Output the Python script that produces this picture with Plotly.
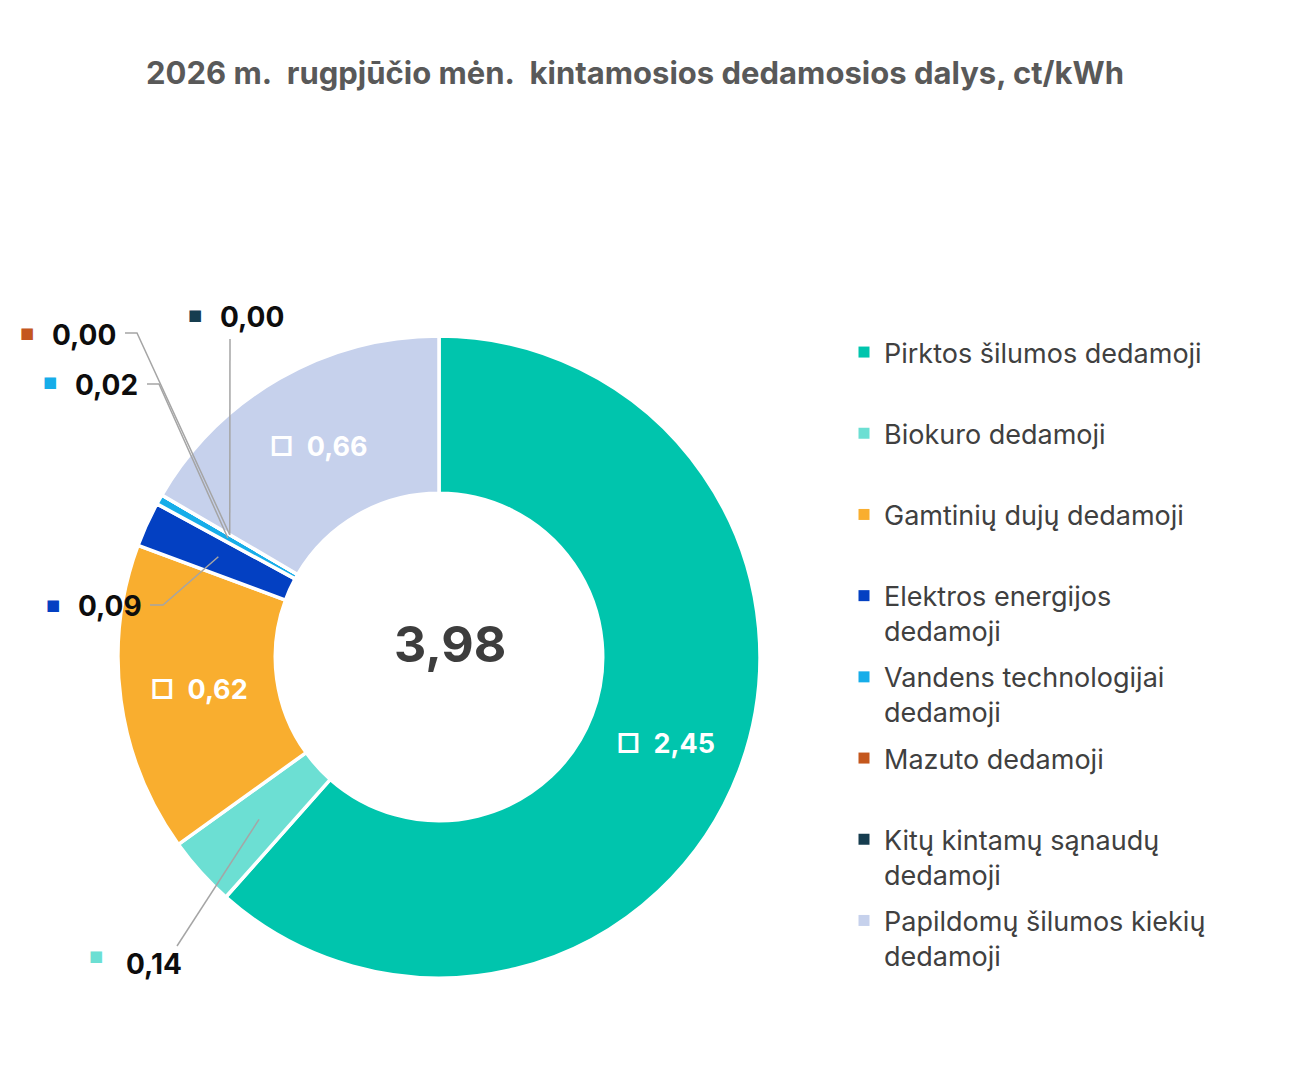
import math
import plotly.graph_objects as go

# data (ct/kWh)
categories = [
    "Pirktos šilumos dedamoji",
    "Biokuro dedamoji",
    "Gamtinių dujų dedamoji",
    "Elektros energijos dedamoji",
    "Vandens technologijai dedamoji",
    "Mazuto dedamoji",
    "Kitų kintamų sąnaudų dedamoji",
    "Papildomų šilumos kiekių dedamoji",
]
values = [2.45, 0.14, 0.62, 0.09, 0.02, 0.00, 0.00, 0.66]
colors = ["#00C5AD", "#6CDFD3", "#F9AE2F", "#0340C2", "#16ADE9", "#C4571D", "#163D4F", "#C6D1EC"]

title = "2026 m.\u00a0 rugpjūčio mėn.\u00a0 kintamosios dedamosios dalys, ct/kWh"

# page geometry (pixels); the page body has an 8px margin
OFF = 8
FW, FH = 1292 - 2 * OFF, 1080 - 2 * OFF
CX, CY, R = 439, 657, 321
HOLE = 0.51

# outside labels: text left x / centre y, colour chip centre, label end of the leader line
label_pos = {
    "Biokuro dedamoji": (124, 964),
    "Elektros energijos dedamoji": (76, 606),
    "Vandens technologijai dedamoji": (73, 385),
    "Mazuto dedamoji": (50, 335),
    "Kitų kintamų sąnaudų dedamoji": (218, 317),
}
chip_pos = {
    "Biokuro dedamoji": (96, 956),
    "Elektros energijos dedamoji": (53, 605),
    "Vandens technologijai dedamoji": (50, 382),
    "Mazuto dedamoji": (27, 333),
    "Kitų kintamų sąnaudų dedamoji": (195, 315),
}
leader_start = {
    "Biokuro dedamoji": [(177, 946)],
    "Elektros energijos dedamoji": [(150, 605), (163, 605)],
    "Vandens technologijai dedamoji": [(147, 384), (159, 384)],
    "Mazuto dedamoji": [(125, 333), (137, 333)],
    "Kitų kintamų sąnaudų dedamoji": [(230, 339)],
}


def fmt(v):
    return f"{v:.2f}".replace(".", ",")


def px(x, y):
    # page pixel -> paper coordinates
    return (x - OFF) / FW, 1 - (y - OFF) / FH


def wrap(s, n=24):
    if len(s) <= n:
        return s + "<br>\u00a0"
    head, tail = s.rsplit(" ", 1)
    return head + "<br>" + tail


total = sum(values)
inside_text = ["" if c in label_pos else "\u25a1\u00a0 " + fmt(v) for c, v in zip(categories, values)]

dx0, dy0 = px(CX - R, CY + R)
dx1, dy1 = px(CX + R, CY - R)

fig = go.Figure()
fig.add_trace(go.Pie(
    labels=categories,
    values=values,
    text=inside_text,
    textinfo="text",
    textposition="inside",
    insidetextorientation="horizontal",
    insidetextfont=dict(family="Inter", size=27, color="white", weight=700),
    marker=dict(colors=colors, line=dict(color="white", width=3.5)),
    hole=HOLE,
    sort=False,
    direction="clockwise",
    rotation=0,
    showlegend=False,
    domain=dict(x=[dx0, dx1], y=[dy0, dy1]),
))

# legend entries (one group each so the spacing can be set)
for c, col in zip(categories, colors):
    fig.add_trace(go.Scatter(
        x=[None], y=[None], mode="markers", name=wrap(c),
        marker=dict(symbol="square", size=11, color=col),
        legendgroup=c, showlegend=True, hoverinfo="skip",
    ))

annotations = []
shapes = []
# centre total
cx, cy = px(CX + 11, CY - 13)
annotations.append(dict(x=cx, y=cy, xref="paper", yref="paper", xanchor="center", yanchor="middle",
                        text=fmt(total), showarrow=False,
                        font=dict(family="Inter", size=50, color="#3D3D3D", weight=700)))

rmid = R * (1 + HOLE) / 2
cum = 0
for c, v, col in zip(categories, values, colors):
    ang = math.radians((cum + v / 2) / total * 360)
    cum += v
    if c not in label_pos:
        continue
    ax_, ay_ = CX + rmid * math.sin(ang), CY - rmid * math.cos(ang)
    x0, y0 = px(*chip_pos[c])
    annotations.append(dict(x=x0, y=y0, xref="paper", yref="paper", xanchor="center", yanchor="middle",
                            text="\u25a0", showarrow=False,
                            font=dict(family="DejaVu Sans", size=15, color=col)))
    x1, y1 = px(*label_pos[c])
    annotations.append(dict(x=x1, y=y1, xref="paper", yref="paper", xanchor="left", yanchor="middle",
                            text=fmt(v), showarrow=False,
                            font=dict(family="Inter", size=28, color="#0D0D0D", weight=700)))
    pts = leader_start[c] + [(ax_, ay_)]
    path = "M " + " L ".join(f"{px(a, b)[0]:.5f},{px(a, b)[1]:.5f}" for a, b in pts)
    shapes.append(dict(type="path", path=path, xref="paper", yref="paper",
                       line=dict(color="#A5A5A5", width=1.5)))

tx_, ty_ = px(635, 73)
lx, ly = px(844, 328)
fig.update_layout(
    width=FW, height=FH,
    margin=dict(l=0, r=0, t=0, b=0),
    paper_bgcolor="white", plot_bgcolor="white",
    title=dict(text=title, x=tx_, y=ty_, xanchor="center", yanchor="middle",
               font=dict(family="Inter", size=31, color="#595959", weight=700)),
    xaxis=dict(visible=False), yaxis=dict(visible=False),
    legend=dict(x=lx, y=ly, xanchor="left", yanchor="top", valign="top",
                tracegroupgap=8, traceorder="grouped",
                font=dict(family="Inter", size=27, color="#404040")),
    annotations=annotations,
    shapes=shapes,
)

fig.write_html("out.html")
